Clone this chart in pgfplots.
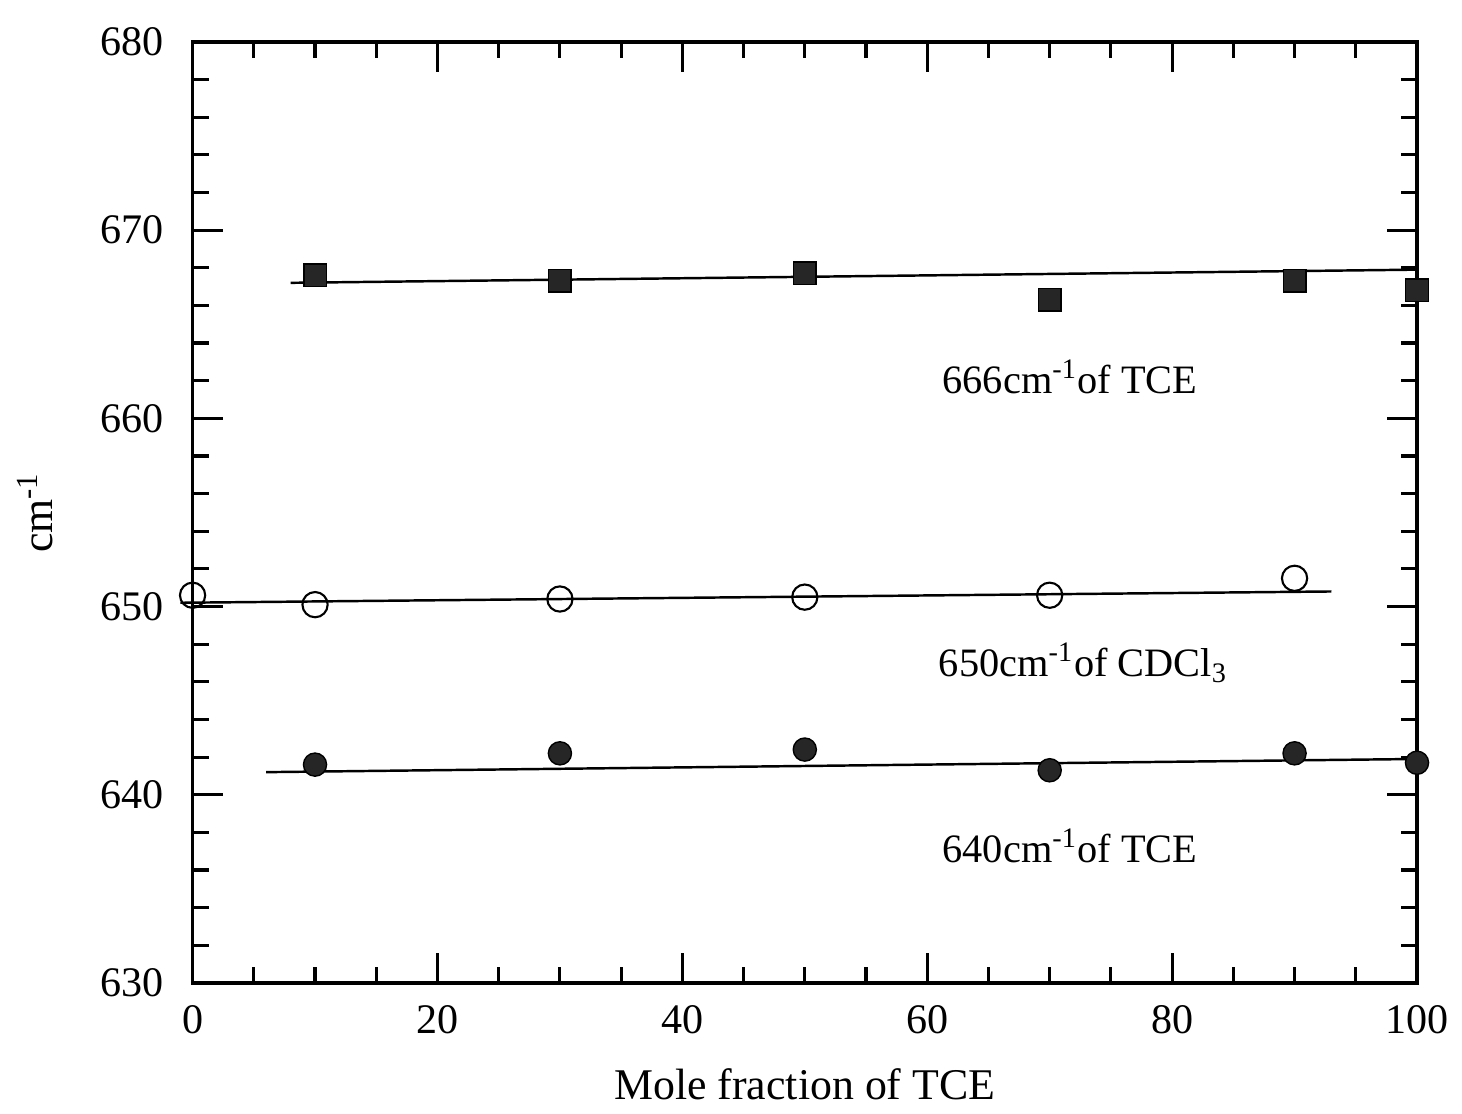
\documentclass[border=0pt]{standalone}
\usepackage{pgfplots}
\pgfplotsset{compat=1.18}
\usepackage{fontspec}
\setmainfont{Liberation Serif}
\begin{document}
\fontsize{11.5pt}{14pt}\selectfont
\begin{tikzpicture}
\begin{axis}[
  at={(0,0)}, anchor=south west,
  scale only axis, width=12.27cm, height=9.43cm,
  xmin=0, xmax=100, ymin=630, ymax=680,
  xtick={0,20,...,100}, ytick={630,640,...,680},
  minor x tick num=3, minor y tick num=4,
  tick align=inside, tick pos=both,
  major tick length=0.3cm, minor tick length=0.16cm,
  axis line style={line width=1pt}, every tick/.style={black, line width=0.9pt},
  /pgf/number format/assume math mode=true,
  ticklabel style={font=\fontsize{12pt}{14pt}\selectfont},
  yticklabel style={xshift=-0.15cm},
  xticklabel style={yshift=-0.08cm},
  xlabel={Mole fraction of TCE}, ylabel={cm\textsuperscript{-1}},
  xlabel style={font=\fontsize{12.5pt}{15pt}\selectfont, yshift=-0.08cm},
  ylabel style={font=\fontsize{12.5pt}{15pt}\selectfont, yshift=0.2cm},
  clip=false,
]
% fit lines
\addplot[black, line width=0.7pt] coordinates {(8,667.2) (100,667.9)};
\addplot[black, line width=0.7pt] coordinates {(-1,650.2) (93,650.8)};
\addplot[black, line width=0.7pt] coordinates {(6,641.2) (100,641.9)};
% data
\addplot[only marks, mark=square*, mark size=3.2pt, black, fill=black!85] coordinates {
 (10,667.6) (30,667.3) (50,667.7) (70,666.3) (90,667.3) (100,666.8)};
\addplot[only marks, mark=o, mark size=3.6pt, black, line width=0.6pt] coordinates {
 (0,650.6) (10,650.1) (30,650.4) (50,650.5) (70,650.6) (90,651.5)};
\addplot[only marks, mark=*, mark size=3.3pt, black, fill=black!85] coordinates {
 (10,641.6) (30,642.2) (50,642.4) (70,641.3) (90,642.2) (100,641.7)};
\node[anchor=west, inner sep=0pt] at (axis cs:61.2,662.2) {666cm\textsuperscript{-1}of TCE};
\node[anchor=west, inner sep=0pt] at (axis cs:60.9,647.0) {650cm\textsuperscript{-1}of CDCl\textsubscript{3}};
\node[anchor=west, inner sep=0pt] at (axis cs:61.2,637.3) {640cm\textsuperscript{-1}of TCE};
\end{axis}
\useasboundingbox (-1.93,-1.18) rectangle (12.69,9.85);
\end{tikzpicture}
\end{document}
